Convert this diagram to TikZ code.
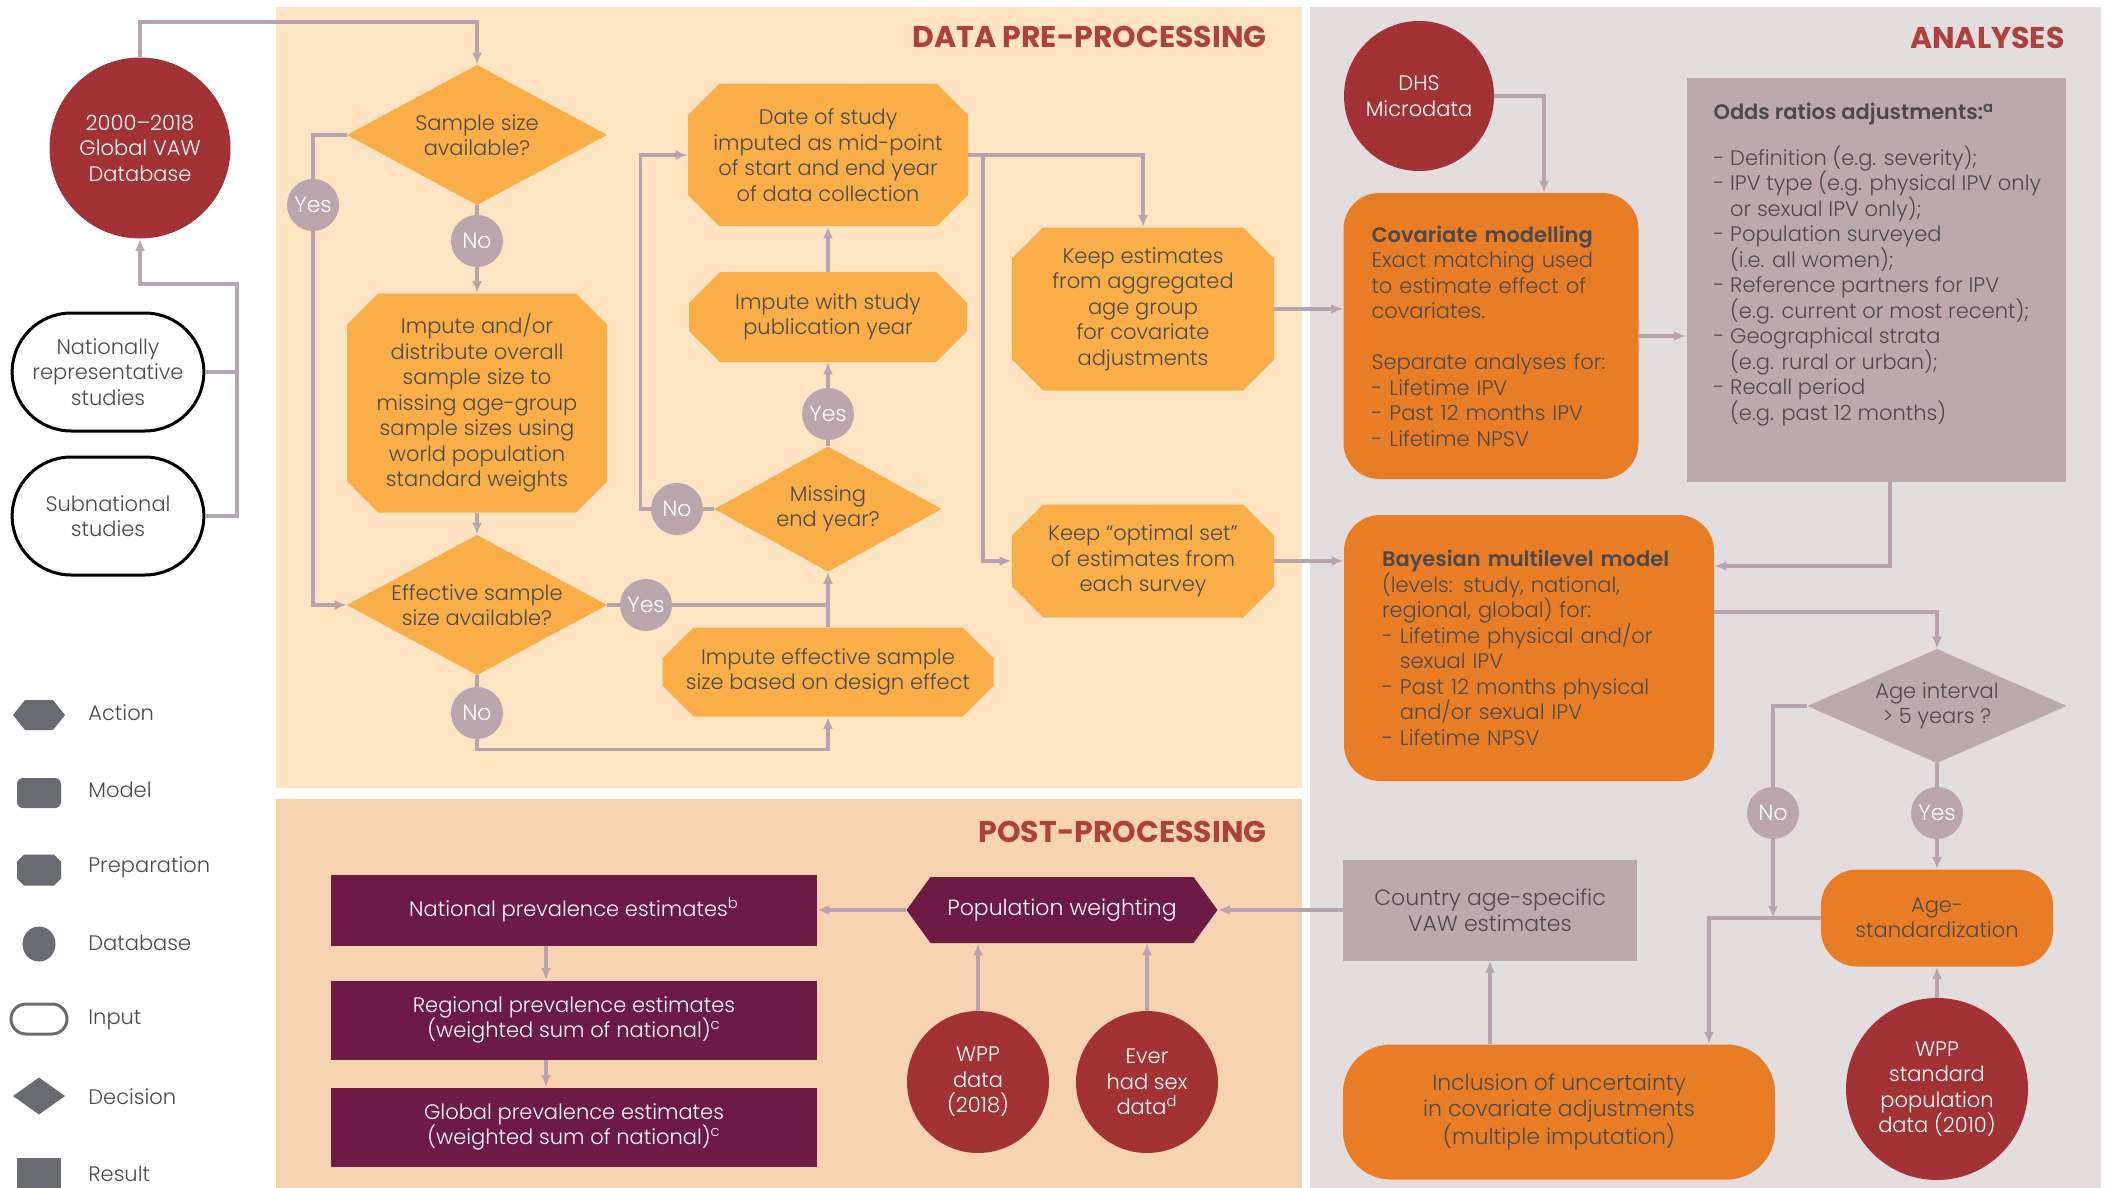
\documentclass[tikz,border=0pt]{standalone}
\usepackage{fontspec}
\IfFontExistsTF{Poppins Light}
  {\IfFontExistsTF{Poppins SemiBold}
     {\setmainfont{Poppins Light}[BoldFont={Poppins SemiBold}]}
     {\setmainfont{Poppins Light}[BoldFont={Poppins}]}}
  {\setmainfont{Poppins}}
\newfontfamily\titlefont{Poppins}
\usepackage{xcolor}
\usetikzlibrary{arrows.meta,shapes.misc,shapes.geometric}

\definecolor{prebg}{HTML}{FDE4C3}
\definecolor{postbg}{HTML}{F6D3B1}
\definecolor{anabg}{HTML}{E3DDDE}
\definecolor{actorange}{HTML}{F9AE48}
\definecolor{modorange}{HTML}{E87D25}
\definecolor{dbred}{HTML}{A33234}
\definecolor{mauve}{HTML}{BBA6AE}
\definecolor{resmauve}{HTML}{BCA9AD}
\definecolor{plum}{HTML}{6D1B45}
\definecolor{linec}{HTML}{B9A3AE}
\definecolor{titlered}{HTML}{B0403C}
\definecolor{txtgray}{HTML}{4A4A4C}
\definecolor{lggray}{HTML}{6A6B70}

\newcommand{\bodyfont}{\fontsize{10.5}{12.75}\selectfont}
\newcommand{\hang}{\hphantom{- }}

\tikzset{
  conn/.style={draw=linec, line width=1.6pt},
  arr/.style={conn, -{Latex[length=6pt,width=5pt]}},
  octa/.style 2 args={path picture={\fill[#1]
      ([xshift=#2]path picture bounding box.north west) -- ([xshift=-#2]path picture bounding box.north east)
      -- ([yshift=-#2]path picture bounding box.north east) -- ([yshift=#2]path picture bounding box.south east)
      -- ([xshift=-#2]path picture bounding box.south east) -- ([xshift=#2]path picture bounding box.south west)
      -- ([yshift=#2]path picture bounding box.south west) -- ([yshift=-#2]path picture bounding box.north west) -- cycle;}},
  hexa/.style 2 args={path picture={\fill[#1]
      (path picture bounding box.west) -- ([xshift=#2]path picture bounding box.north west)
      -- ([xshift=-#2]path picture bounding box.north east) -- (path picture bounding box.east)
      -- ([xshift=-#2]path picture bounding box.south east) -- ([xshift=#2]path picture bounding box.south west) -- cycle;}},
  rhomb/.style={path picture={\fill[#1] (path picture bounding box.north) -- (path picture bounding box.east)
      -- (path picture bounding box.south) -- (path picture bounding box.west) -- cycle;}},
  prep/.style={octa={actorange}{15.5pt}, text=txtgray, align=center, inner sep=0pt, font=\bodyfont},
  dec/.style={rhomb=#1, text=txtgray, align=center, inner sep=0pt, font=\bodyfont},
  dec/.default=actorange,
  yn/.style={circle, fill=mauve, text=white, minimum size=26pt, inner sep=0pt, font=\fontsize{11}{13}\selectfont},
  dbase/.style={circle, fill=dbred, text=white, align=center, inner sep=0pt, font=\bodyfont},
  inp/.style={rounded rectangle, draw=black, line width=1.5pt, fill=white, text=txtgray, align=center,
      minimum width=102.5pt, minimum height=59pt, font=\bodyfont},
  model/.style={rectangle, rounded corners=18pt, fill=modorange, text=txtgray, align=left, font=\bodyfont},
  res/.style={rectangle, fill=resmauve, text=txtgray, align=center, font=\bodyfont},
  outp/.style={rectangle, fill=plum, text=white, align=center, minimum width=243pt, font=\bodyfont},
  sectitle/.style={anchor=east, text=titlered, inner sep=0pt, font=\titlefont\bfseries\fontsize{15}{18}\selectfont},
  lglabel/.style={anchor=west, text=txtgray, inner sep=0pt, font=\bodyfont},
}

\begin{document}
\begin{tikzpicture}[x=0.5pt, y=-0.5pt]
  \useasboundingbox (0,0) rectangle (2109,1188);

  % panels
  \fill[prebg] (276,7) rectangle (1302,788);
  \fill[postbg] (276,799) rectangle (1302,1188);
  \fill[anabg] (1310,7) rectangle (2101,1188);

  \node[sectitle] (tpre) at (1267,37) {DATA PRE-PROCESSING};
  \node[sectitle] (tana) at (2065,38) {ANALYSES};
  \node[sectitle] (tpost) at (1267,832) {POST-PROCESSING};

  % inputs
  \node[dbase, minimum size=90.5pt] (db) at (140,148) {2000–2018\\Global VAW\\Database};
  \node[inp] (nat) at (108,372) {Nationally\\representative\\studies};
  \node[inp] (sub) at (108,516) {Subnational\\studies};

  % data pre-processing
  \node[dec, minimum width=130pt, minimum height=70pt] (ssize) at (477,135) {Sample size\\available?};
  \node[yn] (yes1) at (313,205) {Yes};
  \node[yn] (no1) at (477,241) {No};
  \node[prep, minimum width=130pt, minimum height=109.5pt] (imp) at (477,403)
    {Impute and/or\\distribute overall\\sample size to\\missing age-group\\sample sizes using\\world population\\standard weights};
  \node[dec, minimum width=130pt, minimum height=70pt] (eff) at (477,605) {Effective sample\\size available?};
  \node[yn] (yes2) at (646,605) {Yes};
  \node[yn] (no2) at (477,713) {No};
  \node[prep, minimum width=165.5pt, minimum height=44.5pt] (impes) at (828,672)
    {Impute effective sample\\size based on design effect};
  \node[dec, minimum width=113.5pt, minimum height=62.5pt] (miss) at (828,509) {Missing\\end year?};
  \node[yn] (no3) at (677,509) {No};
  \node[yn] (yes3) at (828,414) {Yes};
  \node[prep, minimum width=139pt, minimum height=45pt] (pubyr) at (828,317) {Impute with study\\publication year};
  \node[prep, minimum width=140pt, minimum height=71pt] (date) at (828,155)
    {Date of study\\imputed as mid-point\\of start and end year\\of data collection};
  \node[prep, minimum width=131pt, minimum height=81.5pt] (keep1) at (1143,309)
    {Keep estimates\\from aggregated\\age group\\for covariate\\adjustments};
  \node[prep, minimum width=131pt, minimum height=56.5pt] (keep2) at (1143,561)
    {Keep “optimal set”\\of estimates from\\each survey};

  % analyses
  \node[dbase, minimum size=75pt] (dhs) at (1419,96) {DHS\\Microdata};
  \node[model, minimum width=147.5pt, minimum height=143pt, text width=119.5pt] (cov) at (1491,336)
    {\textbf{Covariate modelling}\\Exact matching used\\to estimate effect of\\covariates.\\[12.75pt]Separate analyses for:\\- Lifetime IPV\\- Past 12 months IPV\\- Lifetime NPSV};
  \node[res, minimum width=189.5pt, minimum height=201.5pt] (odds) at (1876,280) {};
  \node[anchor=north west, align=left, text=txtgray, inner sep=0pt, font=\bodyfont] (oddstxt)
    at ([xshift=13.5pt,yshift=-12.5pt]odds.north west)
    {\textbf{Odds ratios adjustments:\textsuperscript{a}}\\[10pt]
     - Definition (e.g. severity);\\
     - IPV type (e.g. physical IPV only\\
     \hang or sexual IPV only);\\
     - Population surveyed\\
     \hang (i.e. all women);\\
     - Reference partners for IPV\\
     \hang (e.g. current or most recent);\\
     - Geographical strata\\
     \hang (e.g. rural or urban);\\
     - Recall period\\
     \hang (e.g. past 12 months)};
  \node[model, minimum width=185pt, minimum height=133pt, text width=147pt] (bay) at (1529,648)
    {\textbf{Bayesian multilevel model}\\(levels: study, national,\\regional, global) for:\\- Lifetime physical and/or\\\hang sexual IPV\\- Past 12 months physical\\\hang and/or sexual IPV\\- Lifetime NPSV\\[3pt]};
  \node[dec=resmauve, minimum width=129.5pt, minimum height=57pt] (age) at (1937,706) {Age interval\\> 5 years ?};
  \node[yn] (no4) at (1773,813) {No};
  \node[yn] (yes4) at (1937,813) {Yes};
  \node[model, align=center, minimum width=116pt, minimum height=48.5pt] (std) at (1937,918)
    {Age-\\standardization};
  \node[dbase, minimum size=91pt] (wpps) at (1937,1089) {WPP\\standard\\population\\data (2010)};
  \node[model, rounded corners=24pt, align=center, minimum width=216pt, minimum height=67.5pt, font=\fontsize{11}{13}\selectfont] (inc) at (1559,1112)
    {Inclusion of uncertainty\\in covariate adjustments\\(multiple imputation)};
  \node[res, minimum width=147pt, minimum height=50.5pt, font=\fontsize{11}{13}\selectfont] (ctry) at (1490,910)
    {Country age-specific\\VAW estimates};

  % post-processing
  \node[hexa={plum}{12pt}, minimum width=155.5pt, minimum height=33pt, inner sep=0pt, text=white, font=\fontsize{11}{13}\selectfont] (popw) at (1062,910)
    {Population weighting};
  \node[dbase, minimum size=71pt] (wpp) at (978,1082) {WPP\\data\\(2018)};
  \node[dbase, minimum size=71pt] (ever) at (1147,1082) {Ever\\had sex\\data\textsuperscript{d}};
  \node[outp, minimum height=35.5pt] (natp) at (574,910) {National prevalence estimates\textsuperscript{b}};
  \node[outp, minimum height=39.5pt] (regp) at (574,1020) {Regional prevalence estimates\\(weighted sum of national)\textsuperscript{c}};
  \node[outp, minimum height=39.5pt] (globp) at (574,1127) {Global prevalence estimates\\(weighted sum of national)\textsuperscript{c}};

  % legend
  \node[hexa={lggray}{6pt}, minimum width=26pt, minimum height=15pt, inner sep=0pt] (lgact) at (39,715) {};
  \node[rectangle, rounded corners=3pt, fill=lggray, minimum width=22pt, minimum height=15pt, inner sep=0pt] (lgmod) at (39,793) {};
  \node[octa={lggray}{3.5pt}, minimum width=22pt, minimum height=15.5pt, inner sep=0pt] (lgprep) at (39,870) {};
  \node[ellipse, fill=lggray, minimum width=16.5pt, minimum height=17.5pt, inner sep=0pt] (lgdb) at (39,944) {};
  \node[rounded rectangle, draw=lggray, line width=1.5pt, minimum width=28pt, minimum height=15pt, inner sep=0pt] (lginp) at (39,1019) {};
  \node[rhomb=lggray, minimum width=26pt, minimum height=18.5pt, inner sep=0pt] (lgdec) at (39,1096) {};
  \node[rectangle, fill=lggray, minimum width=22pt, minimum height=15pt, inner sep=0pt] (lgres) at (39,1173) {};
  \node[lglabel] (lbact) at (88,713) {Action};
  \node[lglabel] (lbmod) at (88,790) {Model};
  \node[lglabel] (lbprep) at (88,867) {Preparation};
  \node[lglabel] (lbdb) at (88,943) {Database};
  \node[lglabel] (lbinp) at (88,1020) {Input};
  \node[lglabel] (lbdec) at (88,1097) {Decision};
  \node[lglabel] (lbres) at (88,1174) {Result};

  % connectors: inputs
  \draw[conn] (nat.east) -- (nat.east -| 237,0);
  \draw[arr] (sub.east) -| (237,284) -| (db.south);
  \draw[arr] (db.north) |- (477,22) -- (ssize.north);

  % connectors: pre-processing
  \draw[conn] (ssize.west) -| (yes1.north);
  \draw[arr] (yes1.south) |- (eff.west);
  \draw[conn] (ssize.south) -- (no1.north);
  \draw[arr] (no1.south) -- (imp.north);
  \draw[arr] (imp.south) -- (eff.north);
  \draw[conn] (eff.east) -- (yes2.west);
  \draw[conn] (yes2.east) -- (yes2.east -| miss.south);
  \draw[conn] (eff.south) -- (no2.north);
  \draw[arr] (no2.south) -- ++(0,10) -| (impes.south);
  \draw[arr] (impes.north) -- (miss.south);
  \draw[conn] (miss.west) -- (no3.east);
  \draw[arr] (no3.west) -- ++(-10,0) |- (date.west);
  \draw[conn] (miss.north) -- (yes3.south);
  \draw[arr] (yes3.north) -- (pubyr.south);
  \draw[arr] (pubyr.north) -- (date.south);
  \draw[arr] (date.east) -| (keep1.north);
  \coordinate (split) at (983,155);
  \draw[arr] (split) |- (keep2.west);

  % connectors: analyses
  \draw[arr] (keep1.east) -- (keep1.east -| cov.west);
  \draw[arr] (keep2.east) -- (keep2.east -| bay.west);
  \draw[arr] (dhs.east) -| ([xshift=26.5pt]cov.north);
  \draw[arr] (cov.east) -- (cov.east -| odds.west);
  \draw[arr] ([xshift=7pt]odds.south) |- (bay.east |- 0,566);
  \draw[arr] (bay.east |- 0,612) -| (age.north);
  \draw[conn] (age.west) -| (no4.north);
  \draw[conn] (age.south) -- (yes4.north);
  \draw[arr] (yes4.south) -- (std.north);
  \draw[arr] (no4.south) -- (no4.south |- std.west);
  \draw[arr] (std.west) -| ([xshift=75pt]inc.north);
  \draw[arr] (wpps.north) -- (std.south);
  \draw[arr] (inc.north -| ctry.south) -- (ctry.south);

  % connectors: post-processing
  \draw[arr] (ctry.west) -- (popw.east);
  \draw[arr] (popw.west) -- (natp.east);
  \draw[arr] (wpp.north) -- (wpp.north |- popw.south);
  \draw[arr] (ever.north) -- (ever.north |- popw.south);
  \draw[arr] ([xshift=-14pt]natp.south) -- ([xshift=-14pt]regp.north);
  \draw[arr] ([xshift=-14pt]regp.south) -- ([xshift=-14pt]globp.north);
\end{tikzpicture}
\end{document}
